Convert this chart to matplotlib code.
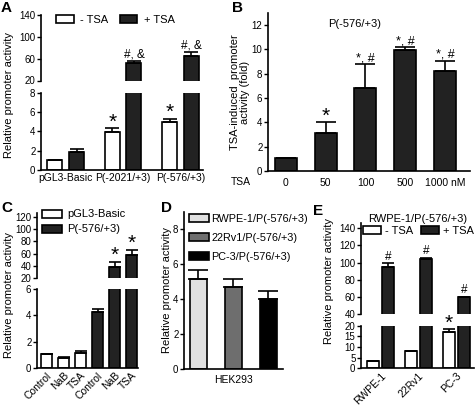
import numpy as np
import matplotlib.pyplot as plt
from matplotlib.patches import Patch

plt.rcParams['font.family'] = ['Liberation Sans', 'DejaVu Sans']
plt.rcParams['font.size'] = 7

# ---- data ----
a_groups = ['pGL3-Basic', 'P(-2021/+3)', 'P(-576/+3)']
a_minus = [1.0, 3.9, 5.0]
a_minus_err = [0.03, 0.4, 0.28]
a_plus = [1.9, 51.5, 65.0]
a_plus_err = [0.27, 4.0, 7.0]
a_minus_marks = ['', '*', '*']
a_plus_marks = ['', '#, &', '#, &']

b_doses = ['0', '50', '100', '500', '1000 nM']
b_fold = [1.04, 3.1, 6.8, 9.94, 8.24]
b_err = [0.0, 0.9, 1.97, 0.22, 0.82]
b_marks = ['', '*', '*, #', '*, #', '*, #']

c_labels = ['Control', 'NaB', 'TSA', 'Control', 'NaB', 'TSA']
c_basic = [1.03, 0.77, 1.1]
c_basic_err = [0.03, 0.03, 0.18]
c_576 = [4.29, 38.0, 57.6]
c_576_err = [0.2, 8.0, 8.3]
c_marks = ['', '*', '*']

d_lines = ['RWPE-1/P(-576/+3)', '22Rv1/P(-576/+3)', 'PC-3/P(-576/+3)']
d_vals = [5.14, 4.69, 4.0]
d_err = [0.53, 0.47, 0.49]
d_colors = ['#e0e0e0', '#6e6e6e', '#000000']

e_cells = ['RWPE-1', '22Rv1', 'PC-3']
e_minus = [3.4, 8.1, 16.9]
e_minus_err = [0.2, 0.2, 1.4]
e_plus = [95.3, 104.0, 59.8]
e_plus_err = [4.0, 2.0, 0.7]
e_minus_marks = ['', '', '*']
e_plus_marks = ['#', '#', '#']

DARK = '#222222'
W, H = 477, 408
fig = plt.figure(figsize=(W / 100, H / 100), dpi=100)


def px_box(l, t, r, b):
    return [l / W, 1 - b / H, (r - l) / W, (b - t) / H]


def new_ax(l, t, r, b, bottom=True):
    ax = fig.add_axes(px_box(l, t, r, b))
    ax.patch.set_visible(False)
    for s in ['top', 'right']:
        ax.spines[s].set_visible(False)
    for s in ax.spines.values():
        s.set_linewidth(1.2)
    if not bottom:
        ax.spines['bottom'].set_visible(False)
        ax.set_xticks([])
    ax.tick_params(axis='y', length=3, width=1, pad=1, labelsize=7)
    ax.tick_params(axis='x', length=0, labelsize=7, pad=2)
    return ax


def bars(ax, x, h, err, w, color, cap=4):
    return ax.bar(x, h, w, color=color, edgecolor='black', linewidth=1.2,
                  yerr=[np.zeros(len(err)), err],
                  error_kw=dict(capsize=cap, elinewidth=1.2, capthick=1.2, ecolor='black'))


def mark(ax, x, top, text, size=8.5, dy=1.5):
    # star-only labels are drawn large, like the reference
    for xi, ti, s in zip(x, top, text):
        if not s:
            continue
        if s == '*':
            ax.annotate(s, (xi, ti), xytext=(0, 0.5), textcoords='offset points',
                        ha='center', va='baseline', fontsize=15, annotation_clip=True)
        else:
            ax.annotate(s, (xi, ti), xytext=(0, dy), textcoords='offset points',
                        ha='center', va='baseline', fontsize=size, annotation_clip=True)


def legend(ax, handles, x, y, ncol=1, **kw):
    opts = dict(frameon=False, fontsize=8, handlelength=1.6, handleheight=0.75,
                handletextpad=0.5, borderpad=0, borderaxespad=0,
                loc='center left', bbox_to_anchor=(x / W, 1 - y / H),
                bbox_transform=fig.transFigure, ncol=ncol)
    opts.update(kw)
    ax.legend(handles=handles, **opts)


def patch(c, n):
    return Patch(facecolor=c, edgecolor='black', lw=1.2, label=n)


def ftext(x, y, s, **kw):
    fig.text(x / W, 1 - y / H, s, **kw)


# ---- panel A ----
xa = np.arange(len(a_groups))
off = 0.188
a_up = new_ax(41, 14.7, 203, 80.5, bottom=False)
a_lo = new_ax(41, 92.7, 203, 170)
for ax in (a_up, a_lo):
    bars(ax, xa - off, a_minus, a_minus_err, 0.26, 'white', cap=5)
    bars(ax, xa + off, a_plus, a_plus_err, 0.26, DARK, cap=5)
    ax.set_xlim(-0.43, 2.39)
a_up.set_ylim(20, 141)
a_up.set_yticks([20, 60, 100, 140])
a_lo.set_ylim(0, 8)
a_lo.set_yticks([0, 2, 4, 6, 8])
a_lo.set_xticks(xa)
a_lo.set_xticklabels(a_groups, fontsize=7.5)
mark(a_lo, xa - off, np.add(a_minus, a_minus_err), a_minus_marks)
mark(a_up, xa + off, np.add(a_plus, a_plus_err), a_plus_marks, dy=2.5)
legend(a_lo, [patch('white', '- TSA'), patch(DARK, '+ TSA')], 56, 20, ncol=2,
       handletextpad=0.6, columnspacing=1.0)
ftext(9, 95, 'Relative promoter activity', rotation=90, ha='center', va='center', fontsize=8)
ftext(1, 1, 'A', fontsize=11, fontweight='bold', va='top')

# ---- panel B ----
xb = np.arange(len(b_doses))
b = new_ax(268, 12.8, 470, 171)
bars(b, xb, b_fold, b_err, 0.55, DARK, cap=7)
b.set_xlim(-0.45, 4.63)
b.set_ylim(0, 13)
b.set_yticks(range(0, 13, 2))
b.set_xticks(xb)
b.set_xticklabels(b_doses, fontsize=7.5)
b.tick_params(axis='x', pad=5)
mark(b, xb, np.add(b_fold, b_err), b_marks, size=9, dy=2)
b.text(0.43, 0.93, 'P(-576/+3)', transform=b.transAxes, ha='center', va='center', fontsize=8)
ftext(231, 182, 'TSA', fontsize=7.5, va='center')
ftext(240, 92, 'TSA-induced  promoter\nactivity (fold)', rotation=90, ha='center',
      va='center', fontsize=8, linespacing=1.0)
ftext(232, 1, 'B', fontsize=11, fontweight='bold', va='top')

# ---- panel C ----
xc = np.arange(len(c_labels))
c_up = new_ax(37, 213, 138, 277.7, bottom=False)
c_lo = new_ax(37, 289.3, 138, 367.7)
for ax in (c_up, c_lo):
    bars(ax, xc[:3], c_basic, c_basic_err, 0.68, 'white', cap=4)
    bars(ax, xc[3:], c_576, c_576_err, 0.68, DARK, cap=4)
    ax.set_xlim(-0.56, 5.37)
c_up.set_ylim(20, 127)
c_up.set_yticks(range(20, 121, 20))
c_lo.set_ylim(0, 6)
c_lo.set_yticks([0, 2, 4, 6])
c_lo.set_xticks(xc)
c_lo.set_xticklabels(c_labels, rotation=45, ha='right', rotation_mode='anchor', fontsize=7.5)
mark(c_up, xc[3:], np.add(c_576, c_576_err), c_marks)
legend(c_lo, [patch('white', 'pGL3-Basic'), patch(DARK, 'P(-576/+3)')], 42, 222,
       handlelength=1.8, labelspacing=0.45)
ftext(9, 295, 'Relative promoter activity', rotation=90, ha='center', va='center', fontsize=8)
ftext(1, 201, 'C', fontsize=11, fontweight='bold', va='top')

# ---- panel D ----
xd = np.arange(len(d_lines))
d = new_ax(184, 211.8, 283, 369.3)
bars(d, xd, d_vals, d_err, 0.49, d_colors, cap=7)
d.set_xlim(-0.41, 2.42)
d.set_ylim(0, 9)
d.set_yticks(range(0, 9, 2))
d.set_xticks([1])
d.set_xticklabels(['HEK293'], fontsize=7.5)
d.tick_params(axis='x', pad=4)
legend(d, [patch(c, n) for c, n in zip(d_colors, d_lines)], 189, 238,
       fontsize=7.8, handlelength=1.8, handletextpad=0.25, labelspacing=0.85)
ftext(167, 290, 'Relative promoter activity', rotation=90, ha='center', va='center', fontsize=8)
ftext(161, 201, 'D', fontsize=11, fontweight='bold', va='top')

# ---- panel E ----
xe = np.arange(len(e_cells))
eo = 0.2
e_up = new_ax(361, 222.7, 474, 314.3, bottom=False)
e_lo = new_ax(361, 325.7, 474, 368.3)
for ax in (e_up, e_lo):
    bars(ax, xe - eo, e_minus, e_minus_err, 0.32, 'white', cap=4)
    bars(ax, xe + eo, e_plus, e_plus_err, 0.32, DARK, cap=4)
    ax.set_xlim(-0.513, 2.46)
e_up.set_ylim(40, 146.5)
e_up.set_yticks(range(40, 141, 20))
e_lo.set_ylim(0, 20)
e_lo.set_yticks(range(0, 21, 5))
e_lo.set_xticks(xe)
e_lo.set_xticklabels(e_cells, rotation=45, ha='right', rotation_mode='anchor', fontsize=7.5)
mark(e_lo, xe - eo, np.add(e_minus, e_minus_err), e_minus_marks)
mark(e_up, xe + eo, np.add(e_plus, e_plus_err), e_plus_marks, dy=2.5)
ftext(418, 219, 'RWPE-1/P(-576/+3)', ha='center', va='center', fontsize=8)
legend(e_lo, [patch('white', '- TSA'), patch(DARK, '+ TSA')], 363, 231, ncol=2,
       handletextpad=0.4, columnspacing=0.7)
ftext(329, 281, 'Relative promoter activity', rotation=90, ha='center', va='center', fontsize=8)
ftext(313, 204, 'E', fontsize=11, fontweight='bold', va='top')

fig.savefig('out.png', dpi=100)
